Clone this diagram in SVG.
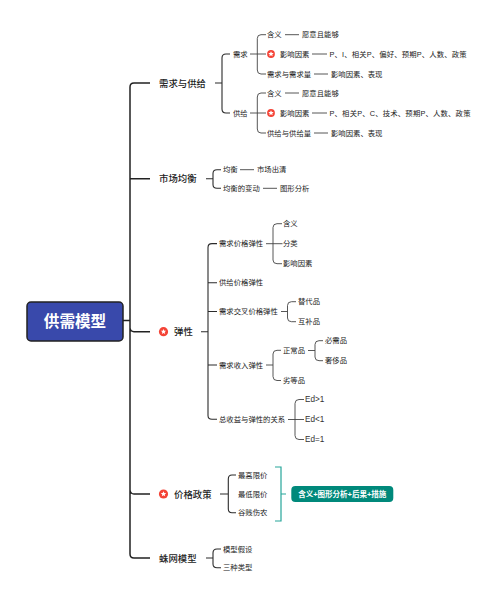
<svg xmlns="http://www.w3.org/2000/svg" width="500" height="602" viewBox="0 0 500 602">
<defs>
<g id="star"><circle r="4.6" fill="#f44336"/><polygon points="0,-2.8 0.8,-0.9 2.7,-0.9 1.2,0.4 1.7,2.3 0,1.2 -1.7,2.3 -1.2,0.4 -2.7,-0.9 -0.8,-0.9" fill="#fff"/></g>
<g id="star-small"><circle r="3.9" fill="#f44336"/><polygon points="0,-2.8 0.8,-0.9 2.7,-0.9 1.2,0.4 1.7,2.3 0,1.2 -1.7,2.3 -1.2,0.4 -2.7,-0.9 -0.8,-0.9" fill="#fff"/></g>
</defs>
<style>
text{font-family:"Liberation Sans","Noto Sans CJK SC",sans-serif;fill:#222;dominant-baseline:central}
.l1{font-size:9.4px;font-weight:500;fill:#222}
.l2{font-size:7.35px}
.ed{font-size:8.2px;fill:#333}
.c1{fill:none;stroke:#222;stroke-width:1.5}
.c2{fill:none;stroke:#2b2b2b;stroke-width:1.1}
.c3{fill:none;stroke:#444;stroke-width:.9}
.teal{fill:none;stroke:#26a69a;stroke-width:1.2}
.root{font-size:15.6px;font-weight:700;fill:#fff;text-anchor:middle}
.tag{font-size:7.5px;font-weight:700;fill:#fff;text-anchor:middle}
</style>
<rect width="500" height="602" fill="#fff"/>
<g id="connectors">
<path class="c1" d="M123 320.500H130M150 83H134Q130 83 130 87V554Q130 558 134 558H150M130 178.700H150M130 328Q130.500 331.700 134 331.700H150M130 490Q130.500 494 134 494H150"/>
<path class="c2" d="M215 83H222M230 54H226Q222 54 222 58V109Q222 113 226 113H230"/>
<path class="c3" d="M250 54H266M266 34.700H261Q257.300 34.700 257.300 38.500V70Q257.300 74 261 74H266"/>
<path class="c3" d="M250 113H266M266 93H261Q257.300 93 257.300 97V129Q257.300 133 261 133H266"/>
<path class="c3" d="M285 34.700H299M312 54H327M314 74H328M285 93H299M312 113H327M314 133H328"/>
<path class="c2" d="M206 178.700H213M221 169.700H217Q213 169.700 213 173.500V184.500Q213 188.300 217 188.300H221"/>
<path class="c3" d="M240 169.700H254M263 188.300H277"/>
<path class="c2" d="M201 331.700H208M217 243.600H212Q208 243.600 208 247.500V415.500Q208 419.300 212 419.300H217M208 282.700H217M208 311.500H217M208 365H217"/>
<path class="c3" d="M266 243.700H282.500M282 223.700H277Q273 223.700 273 227.500V260Q273 263.700 277 263.700H282"/>
<path class="c3" d="M281 311.500H287.500M296 301.700H291.500Q287.500 301.700 287.500 305.500V318Q287.500 321.700 291.500 321.700H296"/>
<path class="c3" d="M266 365H273M281 350.300H277Q273 350.300 273 354V376.500Q273 380.500 277 380.500H281"/>
<path class="c3" d="M308 350.500H315M323 340.700H319Q315 340.700 315 344.500V357Q315 360.700 319 360.700H323"/>
<path class="c3" d="M288 419.500H304M304 399.500H299Q295 399.500 295 403.500V435.500Q295 439.500 299 439.500H304"/>
<path class="c2" d="M220 494H228M236 475H232Q228.300 475 228.300 479V509Q228.300 512.700 232 512.700H236"/>
<path class="c2" d="M206 558H213M221 549H217Q213 549 213 553V564Q213 567.700 217 567.700H221"/>
<path class="teal" d="M275 467H281V521H275M281 494H286"/>
</g>
<g id="root"><rect x="27" y="302" width="96" height="39" rx="4" fill="#3949ab" stroke="#222" stroke-width="1.500"/><text class="root" x="75" y="321">供需模型</text></g>
<g id="n1"><text class="l1" x="159" y="83">需求与供给</text></g>
<g id="n2"><text class="l1" x="159" y="178.700">市场均衡</text></g>
<g id="n3"><use href="#star" x="163.500" y="331.700"/><text class="l1" x="174" y="331.700">弹性</text></g>
<g id="n4"><use href="#star" x="163.500" y="494"/><text class="l1" x="174" y="494">价格政策</text></g>
<g id="n5"><text class="l1" x="159" y="558">蛛网模型</text></g>
<g id="demand"><text class="l2" x="233" y="54">需求</text>
<text class="l2" x="267" y="34.700">含义</text><text class="l2" x="302" y="34.700">愿意且能够</text>
<use href="#star-small" x="271" y="54"/><text class="l2" x="280" y="54">影响因素</text><text class="l2" x="329.500" y="54" textLength="137">P、I、相关P、偏好、预期P、人数、政策</text>
<text class="l2" x="267" y="74">需求与需求量</text><text class="l2" x="331" y="74">影响因素、表现</text></g>
<g id="supply"><text class="l2" x="233" y="113">供给</text>
<text class="l2" x="267" y="93">含义</text><text class="l2" x="302" y="93">愿意且能够</text>
<use href="#star-small" x="271" y="113"/><text class="l2" x="280" y="113">影响因素</text><text class="l2" x="329.500" y="113" textLength="141">P、相关P、C、技术、预期P、人数、政策</text>
<text class="l2" x="267" y="133">供给与供给量</text><text class="l2" x="331" y="133">影响因素、表现</text></g>
<g id="equilibrium"><text class="l2" x="223" y="169.700">均衡</text><text class="l2" x="257" y="169.700">市场出清</text><text class="l2" x="223" y="188.300">均衡的变动</text><text class="l2" x="280" y="188.300">图形分析</text></g>
<g id="elasticity">
<text class="l2" x="219" y="243.600">需求价格弹性</text><text class="l2" x="283" y="223.700">含义</text><text class="l2" x="283" y="243.700">分类</text><text class="l2" x="283" y="263.700">影响因素</text>
<text class="l2" x="219" y="282.700">供给价格弹性</text>
<text class="l2" x="219" y="311.500">需求交叉价格弹性</text><text class="l2" x="298" y="301.700">替代品</text><text class="l2" x="298" y="321.700">互补品</text>
<text class="l2" x="219" y="365">需求收入弹性</text><text class="l2" x="283" y="350.300">正常品</text><text class="l2" x="325" y="340.700">必需品</text><text class="l2" x="325" y="360.700">奢侈品</text><text class="l2" x="283" y="380.500">劣等品</text>
<text class="l2" x="219" y="419.300">总收益与弹性的关系</text><text class="ed" x="305" y="399.500">Ed&gt;1</text><text class="ed" x="305" y="419.500">Ed&lt;1</text><text class="ed" x="305" y="439.500">Ed=1</text></g>
<g id="policy"><text class="l2" x="238" y="475">最高限价</text><text class="l2" x="238" y="494">最低限价</text><text class="l2" x="238" y="512.700">谷贱伤农</text></g>
<g id="tag"><rect x="291.300" y="486" width="102" height="16" rx="4" fill="#00897b"/><text class="tag" x="342.300" y="494">含义+图形分析+后果+措施</text></g>
<g id="cobweb"><text class="l2" x="223" y="549">模型假设</text><text class="l2" x="223" y="567.700">三种类型</text></g>
</svg>
